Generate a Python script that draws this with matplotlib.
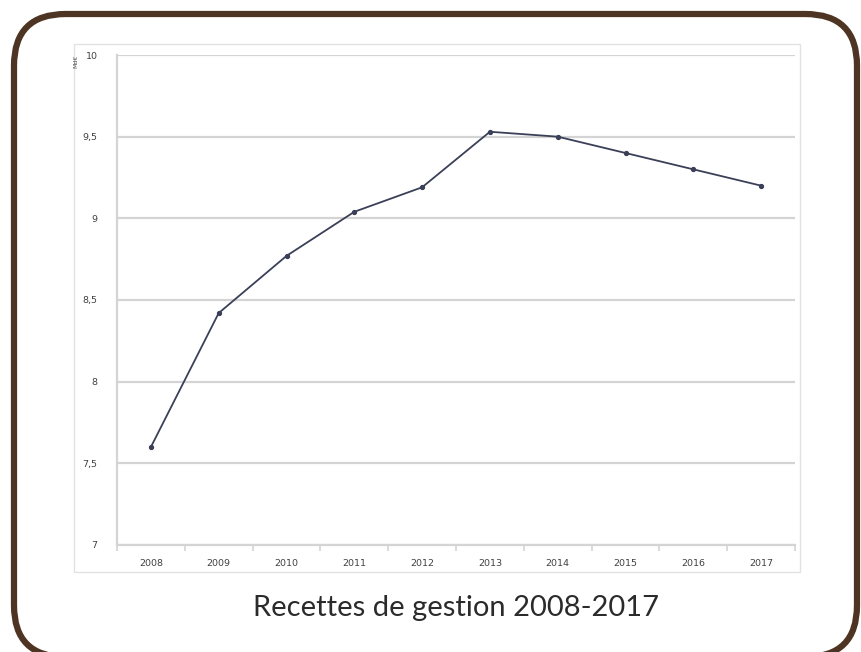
import numpy as np
import matplotlib.pyplot as plt
from matplotlib.patches import FancyBboxPatch, Rectangle

years = ["2008", "2009", "2010", "2011", "2012", "2013", "2014", "2015", "2016", "2017"]
recettes = [7.60, 8.42, 8.77, 9.04, 9.19, 9.53, 9.50, 9.40, 9.30, 9.20]
yticks = [7, 7.5, 8, 8.5, 9, 9.5, 10]
ylabels = ["7", "7,5", "8", "8,5", "9", "9,5", "10"]

W, H = 862, 652
fig = plt.figure(figsize=(W / 100, H / 100), dpi=100)
fig.patch.set_facecolor("white")

# brown rounded frame
frame = FancyBboxPatch((14 / W, -5 / H), (857 - 14) / W, (H - 14 + 5) / H,
                       boxstyle="round,pad=0,rounding_size=0.06",
                       transform=fig.transFigure, fill=False,
                       edgecolor="#4e3422", linewidth=4.5, mutation_aspect=W / H)
fig.patches.append(frame)

# light border of the pasted chart image
fig.patches.append(Rectangle((74 / W, 1 - 572 / H), (800 - 74) / W, (572 - 44) / H,
                             transform=fig.transFigure, fill=False,
                             edgecolor="#e2e2e2", linewidth=1.0))

ax = fig.add_axes([117 / W, 1 - 545 / H, (795 - 117) / W, (545 - 55) / H])
x = np.arange(len(years))
ax.plot(x, recettes, color="#3b4058", linewidth=1.3, marker="o", markersize=2.8)

ax.set_xlim(-0.5, len(years) - 0.5)
ax.set_ylim(7, 10)
ax.set_yticks(yticks)
ax.set_yticklabels(ylabels)
ax.set_xticks(x)
ax.set_xticklabels(years)
ax.set_xticks(np.arange(len(years) + 1) - 0.5, minor=True)

ax.grid(axis="y", color="#d4d4d4", linewidth=1.6)
ax.set_axisbelow(True)
for s in ["top", "right"]:
    ax.spines[s].set_visible(False)
ax.spines["left"].set_color("#d4d4d4")
ax.spines["left"].set_linewidth(1.6)
ax.spines["bottom"].set_color("#d4d4d4")
ax.spines["bottom"].set_linewidth(1.6)
ax.tick_params(axis="both", which="major", length=0, labelsize=6.8, labelcolor="#404040")
ax.tick_params(axis="x", which="minor", length=4, color="#d4d4d4", width=1.2)
ax.tick_params(axis="x", pad=10)
ax.tick_params(axis="y", pad=14)

fig.text(76 / W, 1 - 61 / H, "Md€", rotation=90, fontsize=4.5, color="#505050",
         ha="center", va="center")

fig.text(456 / W, 1 - 608 / H, "Recettes de gestion 2008-2017",
         family=["Lato", "DejaVu Sans"], fontweight="normal", fontsize=21,
         color="#2b2b2b", ha="center", va="center")

fig.savefig("out.png", dpi=100)
